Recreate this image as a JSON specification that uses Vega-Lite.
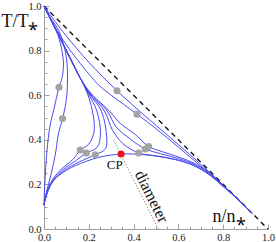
{
  "$schema": "https://vega.github.io/schema/vega-lite/v6.json",
  "width": 224,
  "height": 223,
  "autosize": {"type": "none"},
  "padding": {"left": 44, "top": 6, "right": 8, "bottom": 13},
  "background": "white",
  "config": {
    "view": {"stroke": null},
    "font": "Liberation Serif",
    "axis": {
      "grid": false,
      "domainColor": "#a0a0a0",
      "tickColor": "#a0a0a0",
      "labelColor": "#222222",
      "labelFont": "Liberation Serif",
      "labelFontSize": 10.5,
      "labelOverlap": false,
      "labelFlush": false,
      "titleFont": "Liberation Serif",
      "titleFontWeight": "normal",
      "titleFontSize": 18,
      "titleColor": "#111111"
    }
  },
  "datasets": {
    "curves": [
      {"c": "L1", "i": 0, "x": 0, "y": 1}, {"c": "L1", "i": 1, "x": 0.025, "y": 0.95}, {"c": "L1", "i": 2, "x": 0.055, "y": 0.89}, {"c": "L1", "i": 3, "x": 0.078, "y": 0.81}, {"c": "L1", "i": 4, "x": 0.087, "y": 0.74}, {"c": "L1", "i": 5, "x": 0.08, "y": 0.675}, {"c": "L1", "i": 6, "x": 0.067, "y": 0.636}, {"c": "L1", "i": 7, "x": 0.045, "y": 0.54}, {"c": "L1", "i": 8, "x": 0.028, "y": 0.47}, {"c": "L1", "i": 9, "x": 0.016, "y": 0.38}, {"c": "L1", "i": 10, "x": 0.008, "y": 0.28}, {"c": "L1", "i": 11, "x": 0.003, "y": 0.19}, {"c": "L1", "i": 12, "x": 0, "y": 0.107},
      {"c": "L2", "i": 0, "x": 0, "y": 1}, {"c": "L2", "i": 1, "x": 0.03, "y": 0.945}, {"c": "L2", "i": 2, "x": 0.066, "y": 0.89}, {"c": "L2", "i": 3, "x": 0.092, "y": 0.81}, {"c": "L2", "i": 4, "x": 0.103, "y": 0.74}, {"c": "L2", "i": 5, "x": 0.102, "y": 0.6}, {"c": "L2", "i": 6, "x": 0.083, "y": 0.495}, {"c": "L2", "i": 7, "x": 0.064, "y": 0.425}, {"c": "L2", "i": 8, "x": 0.05, "y": 0.33}, {"c": "L2", "i": 9, "x": 0.03, "y": 0.24}, {"c": "L2", "i": 10, "x": 0.011, "y": 0.165}, {"c": "L2", "i": 11, "x": 0, "y": 0.107},
      {"c": "K5", "i": 0, "x": 0, "y": 1}, {"c": "K5", "i": 1, "x": 0.03, "y": 0.94}, {"c": "K5", "i": 2, "x": 0.07, "y": 0.86}, {"c": "K5", "i": 3, "x": 0.115, "y": 0.77}, {"c": "K5", "i": 4, "x": 0.16, "y": 0.68}, {"c": "K5", "i": 5, "x": 0.193, "y": 0.61}, {"c": "K5", "i": 6, "x": 0.216, "y": 0.529}, {"c": "K5", "i": 7, "x": 0.224, "y": 0.44}, {"c": "K5", "i": 8, "x": 0.2, "y": 0.381}, {"c": "K5", "i": 9, "x": 0.162, "y": 0.354}, {"c": "K5", "i": 10, "x": 0.131, "y": 0.314}, {"c": "K5", "i": 11, "x": 0.071, "y": 0.262}, {"c": "K5", "i": 12, "x": 0.027, "y": 0.203}, {"c": "K5", "i": 13, "x": 0.006, "y": 0.14}, {"c": "K5", "i": 14, "x": 0, "y": 0.107},
      {"c": "K6", "i": 0, "x": 0, "y": 1}, {"c": "K6", "i": 1, "x": 0.03, "y": 0.94}, {"c": "K6", "i": 2, "x": 0.07, "y": 0.86}, {"c": "K6", "i": 3, "x": 0.115, "y": 0.77}, {"c": "K6", "i": 4, "x": 0.16, "y": 0.68}, {"c": "K6", "i": 5, "x": 0.196, "y": 0.61}, {"c": "K6", "i": 6, "x": 0.236, "y": 0.529}, {"c": "K6", "i": 7, "x": 0.252, "y": 0.425}, {"c": "K6", "i": 8, "x": 0.237, "y": 0.366}, {"c": "K6", "i": 9, "x": 0.189, "y": 0.341}, {"c": "K6", "i": 10, "x": 0.14, "y": 0.305}, {"c": "K6", "i": 11, "x": 0.08, "y": 0.262}, {"c": "K6", "i": 12, "x": 0.032, "y": 0.205}, {"c": "K6", "i": 13, "x": 0.007, "y": 0.14}, {"c": "K6", "i": 14, "x": 0, "y": 0.107},
      {"c": "K7", "i": 0, "x": 0, "y": 1}, {"c": "K7", "i": 1, "x": 0.03, "y": 0.94}, {"c": "K7", "i": 2, "x": 0.07, "y": 0.86}, {"c": "K7", "i": 3, "x": 0.115, "y": 0.77}, {"c": "K7", "i": 4, "x": 0.16, "y": 0.68}, {"c": "K7", "i": 5, "x": 0.199, "y": 0.61}, {"c": "K7", "i": 6, "x": 0.256, "y": 0.529}, {"c": "K7", "i": 7, "x": 0.28, "y": 0.41}, {"c": "K7", "i": 8, "x": 0.274, "y": 0.359}, {"c": "K7", "i": 9, "x": 0.229, "y": 0.333}, {"c": "K7", "i": 10, "x": 0.16, "y": 0.302}, {"c": "K7", "i": 11, "x": 0.09, "y": 0.262}, {"c": "K7", "i": 12, "x": 0.036, "y": 0.207}, {"c": "K7", "i": 13, "x": 0.008, "y": 0.14}, {"c": "K7", "i": 14, "x": 0, "y": 0.107},
      {"c": "K8", "i": 0, "x": 0, "y": 1}, {"c": "K8", "i": 1, "x": 0.03, "y": 0.94}, {"c": "K8", "i": 2, "x": 0.07, "y": 0.86}, {"c": "K8", "i": 3, "x": 0.115, "y": 0.77}, {"c": "K8", "i": 4, "x": 0.16, "y": 0.68}, {"c": "K8", "i": 5, "x": 0.202, "y": 0.61}, {"c": "K8", "i": 6, "x": 0.27, "y": 0.529}, {"c": "K8", "i": 7, "x": 0.305, "y": 0.445}, {"c": "K8", "i": 8, "x": 0.352, "y": 0.383}, {"c": "K8", "i": 9, "x": 0.423, "y": 0.341}, {"c": "K8", "i": 10, "x": 0.5, "y": 0.327}, {"c": "K8", "i": 11, "x": 0.6, "y": 0.308}, {"c": "K8", "i": 12, "x": 0.68, "y": 0.279}, {"c": "K8", "i": 13, "x": 0.75, "y": 0.234}, {"c": "K8", "i": 14, "x": 0.8, "y": 0.19}, {"c": "K8", "i": 15, "x": 0.855, "y": 0.142}, {"c": "K8", "i": 16, "x": 0.93, "y": 0.07},
      {"c": "K9", "i": 0, "x": 0, "y": 1}, {"c": "K9", "i": 1, "x": 0.03, "y": 0.94}, {"c": "K9", "i": 2, "x": 0.07, "y": 0.86}, {"c": "K9", "i": 3, "x": 0.115, "y": 0.77}, {"c": "K9", "i": 4, "x": 0.16, "y": 0.68}, {"c": "K9", "i": 5, "x": 0.205, "y": 0.61}, {"c": "K9", "i": 6, "x": 0.282, "y": 0.529}, {"c": "K9", "i": 7, "x": 0.322, "y": 0.458}, {"c": "K9", "i": 8, "x": 0.383, "y": 0.405}, {"c": "K9", "i": 9, "x": 0.452, "y": 0.359}, {"c": "K9", "i": 10, "x": 0.52, "y": 0.338}, {"c": "K9", "i": 11, "x": 0.6, "y": 0.316}, {"c": "K9", "i": 12, "x": 0.68, "y": 0.285}, {"c": "K9", "i": 13, "x": 0.75, "y": 0.238}, {"c": "K9", "i": 14, "x": 0.8, "y": 0.192}, {"c": "K9", "i": 15, "x": 0.855, "y": 0.143}, {"c": "K9", "i": 16, "x": 0.93, "y": 0.07},
      {"c": "K10", "i": 0, "x": 0, "y": 1}, {"c": "K10", "i": 1, "x": 0.03, "y": 0.94}, {"c": "K10", "i": 2, "x": 0.07, "y": 0.86}, {"c": "K10", "i": 3, "x": 0.115, "y": 0.77}, {"c": "K10", "i": 4, "x": 0.16, "y": 0.68}, {"c": "K10", "i": 5, "x": 0.208, "y": 0.61}, {"c": "K10", "i": 6, "x": 0.292, "y": 0.529}, {"c": "K10", "i": 7, "x": 0.342, "y": 0.472}, {"c": "K10", "i": 8, "x": 0.405, "y": 0.426}, {"c": "K10", "i": 9, "x": 0.467, "y": 0.37}, {"c": "K10", "i": 10, "x": 0.53, "y": 0.346}, {"c": "K10", "i": 11, "x": 0.6, "y": 0.323}, {"c": "K10", "i": 12, "x": 0.68, "y": 0.29}, {"c": "K10", "i": 13, "x": 0.75, "y": 0.242}, {"c": "K10", "i": 14, "x": 0.8, "y": 0.195}, {"c": "K10", "i": 15, "x": 0.855, "y": 0.144}, {"c": "K10", "i": 16, "x": 0.93, "y": 0.07},
      {"c": "CP", "i": 0, "x": 0, "y": 0.107}, {"c": "CP", "i": 1, "x": 0.008, "y": 0.15}, {"c": "CP", "i": 2, "x": 0.036, "y": 0.21}, {"c": "CP", "i": 3, "x": 0.08, "y": 0.25}, {"c": "CP", "i": 4, "x": 0.14, "y": 0.284}, {"c": "CP", "i": 5, "x": 0.244, "y": 0.321}, {"c": "CP", "i": 6, "x": 0.344, "y": 0.336}, {"c": "CP", "i": 7, "x": 0.45, "y": 0.333}, {"c": "CP", "i": 8, "x": 0.55, "y": 0.32}, {"c": "CP", "i": 9, "x": 0.65, "y": 0.293}, {"c": "CP", "i": 10, "x": 0.73, "y": 0.25}, {"c": "CP", "i": 11, "x": 0.79, "y": 0.2}, {"c": "CP", "i": 12, "x": 0.85, "y": 0.148}, {"c": "CP", "i": 13, "x": 0.93, "y": 0.07},
      {"c": "A", "i": 0, "x": 0, "y": 1}, {"c": "A", "i": 1, "x": 0.05, "y": 0.93}, {"c": "A", "i": 2, "x": 0.1, "y": 0.865}, {"c": "A", "i": 3, "x": 0.2, "y": 0.748}, {"c": "A", "i": 4, "x": 0.326, "y": 0.62}, {"c": "A", "i": 5, "x": 0.45, "y": 0.508}, {"c": "A", "i": 6, "x": 0.55, "y": 0.422}, {"c": "A", "i": 7, "x": 0.65, "y": 0.335}, {"c": "A", "i": 8, "x": 0.75, "y": 0.244}, {"c": "A", "i": 9, "x": 0.85, "y": 0.148}, {"c": "A", "i": 10, "x": 0.93, "y": 0.07},
      {"c": "B", "i": 0, "x": 0, "y": 1}, {"c": "B", "i": 1, "x": 0.05, "y": 0.905}, {"c": "B", "i": 2, "x": 0.1, "y": 0.825}, {"c": "B", "i": 3, "x": 0.2, "y": 0.695}, {"c": "B", "i": 4, "x": 0.25, "y": 0.64}, {"c": "B", "i": 5, "x": 0.3, "y": 0.6}, {"c": "B", "i": 6, "x": 0.415, "y": 0.515}, {"c": "B", "i": 7, "x": 0.5, "y": 0.45}, {"c": "B", "i": 8, "x": 0.6, "y": 0.367}, {"c": "B", "i": 9, "x": 0.7, "y": 0.282}, {"c": "B", "i": 10, "x": 0.8, "y": 0.195}, {"c": "B", "i": 11, "x": 0.88, "y": 0.119}, {"c": "B", "i": 12, "x": 0.93, "y": 0.07}
    ],
    "points": [
      {"x": 0.067, "y": 0.636, "k": "g"}, {"x": 0.083, "y": 0.495, "k": "g"}, {"x": 0.326, "y": 0.62, "k": "g"}, {"x": 0.415, "y": 0.515, "k": "g"},
      {"x": 0.162, "y": 0.354, "k": "g"}, {"x": 0.189, "y": 0.341, "k": "g"}, {"x": 0.229, "y": 0.333, "k": "g"},
      {"x": 0.423, "y": 0.341, "k": "g"}, {"x": 0.452, "y": 0.359, "k": "g"}, {"x": 0.467, "y": 0.37, "k": "g"},
      {"x": 0.344, "y": 0.336, "k": "r"}
    ],
    "diag": [{"x": 0, "y": 1}, {"x": 1, "y": 0}],
    "diam": [{"x": 0.31, "y": 0.4}, {"x": 0.51, "y": 0}],
    "labels": [
      {"x": 0.316, "y": 0.289, "t": "CP", "s": 13, "a": 0},
      {"x": 0.48, "y": 0.145, "t": "diameter", "s": 16, "a": 63.5}
    ]
  },
  "encoding": {
    "x": {
      "field": "x", "type": "quantitative",
      "scale": {"domain": [0, 1], "nice": false, "zero": false},
      "axis": {
        "title": "n/n⁎",
        "titleX": 168, "titleY": -8, "titleAlign": "left", "titleBaseline": "alphabetic", "titleAnchor": null,
        "values": [0, 0.05, 0.1, 0.15, 0.2, 0.25, 0.3, 0.35, 0.4, 0.45, 0.5, 0.55, 0.6, 0.65, 0.7, 0.75, 0.8, 0.85, 0.9, 0.95, 1.0],
        "format": ".1f",
        "labelExpr": "round(datum.value*20) % 4 == 0 ? datum.label : ''",
        "tickSize": {"condition": {"test": "round(datum.value*20) % 4 == 0", "value": -5}, "value": -3},
        "labelPadding": 8
      }
    },
    "y": {
      "field": "y", "type": "quantitative",
      "scale": {"domain": [0, 1], "nice": false, "zero": false},
      "axis": {
        "title": "T/T⁎",
        "titleX": -43, "titleY": 20, "titleAngle": 0, "titleAlign": "left", "titleBaseline": "alphabetic", "titleAnchor": null,
        "values": [0, 0.05, 0.1, 0.15, 0.2, 0.25, 0.3, 0.35, 0.4, 0.45, 0.5, 0.55, 0.6, 0.65, 0.7, 0.75, 0.8, 0.85, 0.9, 0.95, 1.0],
        "format": ".1f",
        "labelExpr": "round(datum.value*20) % 4 == 0 ? datum.label : ''",
        "tickSize": {"condition": {"test": "round(datum.value*20) % 4 == 0", "value": -5}, "value": -3},
        "labelPadding": 8
      }
    }
  },
  "layer": [
    {
      "data": {"name": "diag"},
      "mark": {"type": "line", "color": "#111111", "strokeDash": [5, 4], "strokeWidth": 1.4}
    },
    {
      "data": {"name": "diam"},
      "mark": {"type": "line", "color": "#666666", "strokeDash": [1, 2], "strokeWidth": 1}
    },
    {
      "data": {"name": "curves"},
      "mark": {"type": "line", "interpolate": "catmull-rom", "color": "#4a4af0", "strokeWidth": 1},
      "encoding": {
        "detail": {"field": "c", "type": "nominal"},
        "order": {"field": "i", "type": "quantitative"}
      }
    },
    {
      "data": {"name": "points"},
      "mark": {"type": "circle", "size": 50, "opacity": 1},
      "encoding": {
        "color": {"field": "k", "type": "nominal", "scale": {"domain": ["g", "r"], "range": ["#a3a3a3", "#e8141e"]}, "legend": null}
      }
    },
    {
      "data": {"name": "labels"},
      "mark": {"type": "text", "font": "Liberation Serif", "color": "#111111", "align": "center", "baseline": "middle"},
      "encoding": {
        "text": {"field": "t"},
        "size": {"field": "s", "type": "quantitative", "scale": null},
        "angle": {"field": "a", "type": "quantitative", "scale": null}
      }
    }
  ]
}
